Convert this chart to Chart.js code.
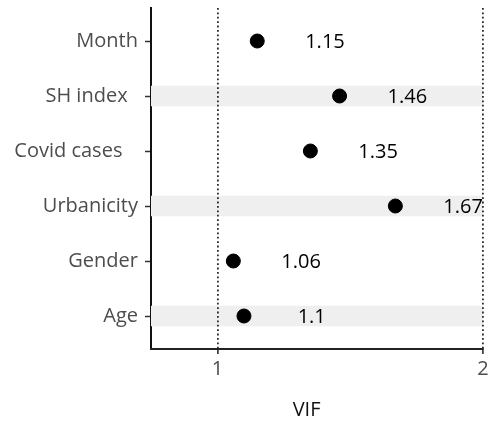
<!DOCTYPE html>
<html>
<head>
<meta charset="utf-8">
<script src="https://cdn.jsdelivr.net/npm/chart.js@4/dist/chart.umd.min.js"></script>
<style>
  html, body { margin: 0; padding: 0; background: #ffffff; overflow: hidden; }
  #wrap { width: 488px; height: 425px; overflow: hidden; }
</style>
</head>
<body>
<div id="wrap"><canvas id="c" width="491" height="425"></canvas></div>
<script>
// ---- data ----
const categories = ["Month", "SH index  ", "Covid cases   ", "Urbanicity", "Gender", "Age"];
const vifValues = [1.15, 1.46, 1.35, 1.67, 1.06, 1.10];
const vifLabels = ["1.15", "1.46", "1.35", "1.67", "1.06", "1.1"];
const shadedRows = [1, 3, 5];
const xTicks = [1, 2];
const xMin = 0.75, xMax = 2.0;
const labelNudge = 0.255;
const xTitle = "VIF    ";

const FONT = "'Open Sans', 'DejaVu Sans', sans-serif";

const pointData = vifValues.map((v, i) => ({ x: v, y: i }));
const bandData = shadedRows.map(i => ({ x: [xMin, xMax], y: i }));

const valueLabels = {
  id: 'valueLabels',
  afterDatasetsDraw(chart) {
    const ctx = chart.ctx;
    const xs = chart.scales.x, ys = chart.scales.y;
    ctx.save();
    ctx.font = "20px " + FONT;
    ctx.fillStyle = "#000000";
    ctx.textAlign = "center";
    ctx.textBaseline = "middle";
    vifValues.forEach((v, i) => {
      ctx.fillText(vifLabels[i], xs.getPixelForValue(v + labelNudge), ys.getPixelForValue(i) + 1);
    });
    ctx.restore();
  }
};

new Chart(document.getElementById('c'), {
  data: {
    datasets: [
      {
        type: 'scatter',
        data: pointData,
        backgroundColor: '#000000',
        borderColor: '#000000',
        pointRadius: 7,
        pointHoverRadius: 7,
        order: 1
      },
      {
        type: 'bar',
        indexAxis: 'y',
        data: bandData,
        backgroundColor: '#efefef',
        borderWidth: 0,
        barThickness: 20,
        order: 5
      }
    ]
  },
  options: {
    responsive: false,
    animation: false,
    layout: { padding: { top: 5, left: 0, right: 0, bottom: 0 } },
    plugins: { legend: { display: false }, tooltip: { enabled: false } },
    scales: {
      x: {
        type: 'linear',
        position: 'bottom',
        offset: false,
        min: xMin,
        max: xMax,
        afterBuildTicks: s => { s.ticks = xTicks.map(v => ({ value: v })); },
        afterFit: s => { s.height = 76; s.paddingLeft = 0; s.paddingRight = 2; },
        grid: {
          display: true,
          offset: false,
          drawOnChartArea: true,
          color: '#2a2a2a',
          lineWidth: 1.8,
          tickLength: 5,
          tickColor: '#222222',
          tickWidth: 1.5,
          z: 1
        },
        border: { display: true, color: '#222222', width: 2, dash: [1.8, 2.6], z: 2 },
        ticks: {
          color: '#4d4d4d',
          font: { family: FONT, size: 20 },
          padding: 3,
          maxRotation: 0,
          callback: v => String(v)
        },
        title: {
          display: true,
          text: xTitle,
          color: '#111111',
          font: { family: FONT, size: 20 },
          padding: { top: 0, bottom: 3 }
        }
      },
      y: {
        type: 'linear',
        reverse: true,
        offset: false,
        min: -0.6,
        max: 5.6,
        afterBuildTicks: s => { s.ticks = categories.map((c, i) => ({ value: i })); },
        afterFit: s => { s.width = 151; s.paddingTop = 0; s.paddingBottom = 0; },
        grid: {
          display: true,
          offset: false,
          drawOnChartArea: false,
          tickLength: 6,
          tickColor: '#333333',
          tickWidth: 1.5
        },
        border: { display: true, color: '#111111', width: 2 },
        ticks: {
          color: '#4d4d4d',
          font: { family: FONT, size: 20 },
          padding: 7,
          callback: v => categories[v]
        }
      }
    }
  },
  plugins: [valueLabels]
});
</script>
</body>
</html>
